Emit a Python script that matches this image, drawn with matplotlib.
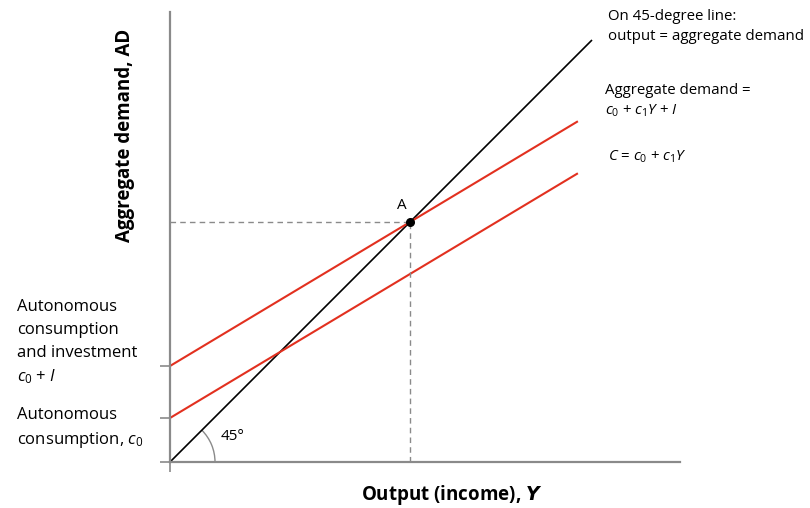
import numpy as np
import matplotlib
matplotlib.use("Agg")
import matplotlib.pyplot as plt
from matplotlib.patches import Arc

plt.rcParams['font.family'] = ['Open Sans', 'DejaVu Sans']
plt.rcParams['mathtext.fontset'] = 'custom'
plt.rcParams['mathtext.rm'] = 'Open Sans'
plt.rcParams['mathtext.it'] = 'Open Sans:italic'
plt.rcParams['mathtext.bf'] = 'Open Sans:bold'

# Model values
c0 = 4.4          # autonomous consumption
inv = 5.2         # investment
c1 = 0.6          # marginal propensity to consume
y_end_45 = 42.2   # extent of 45-degree line
y_end_red = 40.7  # extent of red lines
x_max = 51
y_max = 45

W, H = 810, 508
fig = plt.figure(figsize=(W / 100, H / 100), dpi=100)
ax = fig.add_axes([170 / W, 46 / H, 510 / W, 450 / H])
ax.set_xlim(0, x_max)
ax.set_ylim(0, y_max)

gray = '#8a8a8a'
red = '#e2301f'

for s in ['top', 'right']:
    ax.spines[s].set_visible(False)
for s in ['left', 'bottom']:
    ax.spines[s].set_color(gray)
    ax.spines[s].set_linewidth(1.6)

ax.set_xticks([0])
ax.set_yticks([0, c0, c0 + inv])
ax.set_xticklabels([])
ax.set_yticklabels([])
ax.tick_params(axis='both', direction='out', length=7, width=1.2, color=gray)

# 45-degree line
y45 = np.array([0, y_end_45])
ax.plot(y45, y45, color='black', lw=1.2, solid_capstyle='butt')

# Red lines
yr = np.array([0, y_end_red])
ax.plot(yr, c0 + inv + c1 * yr, color=red, lw=1.5)
ax.plot(yr, c0 + c1 * yr, color=red, lw=1.5)

# Equilibrium A
yA = (c0 + inv) / (1 - c1)
ax.plot([0, yA], [yA, yA], color=gray, lw=1.0, ls=(0, (4, 3)))
ax.plot([yA, yA], [0, yA], color=gray, lw=1.0, ls=(0, (4, 3)))
ax.plot([yA], [yA], 'o', color='black', ms=5.5, zorder=5)
ax.text(yA - 0.35, yA + 0.9, 'A', fontsize=11, ha='right', va='bottom')

# 45 degree arc
arc = Arc((0, 0), 9.0, 9.0, theta1=0, theta2=45, color=gray, lw=1.0)
ax.add_patch(arc)
ax.text(5.1, 2.5, '45°', fontsize=11, ha='left', va='center')

fsr = 10.8
fsl = 12
# Right labels
fig.text(608 / W, 1 - 17 / H, 'On 45-degree line:', fontsize=fsr, ha='left', va='center')
fig.text(608 / W, 1 - 37 / H, 'output = aggregate demand', fontsize=fsr, ha='left', va='center')
fig.text(605 / W, 1 - 90 / H, 'Aggregate demand =', fontsize=fsr, ha='left', va='center')
fig.text(605 / W, 1 - 111 / H, r'$c_0$ + $c_1Y$ + $I$', fontsize=fsr, ha='left', va='center')
fig.text(608 / W, 1 - 157 / H, r'$C$ = $c_0$ + $c_1Y$', fontsize=fsr, ha='left', va='center')

# Left labels
fig.text(17 / W, 1 - 307 / H, 'Autonomous', fontsize=fsl, ha='left', va='center')
fig.text(17 / W, 1 - 330 / H, 'consumption', fontsize=fsl, ha='left', va='center')
fig.text(17 / W, 1 - 353 / H, 'and investment', fontsize=fsl, ha='left', va='center')
fig.text(17 / W, 1 - 377 / H, r'$c_0$ + $I$', fontsize=fsl, ha='left', va='center')
fig.text(17 / W, 1 - 415 / H, 'Autonomous', fontsize=fsl, ha='left', va='center')
fig.text(17 / W, 1 - 440 / H, r'consumption, $c_0$', fontsize=fsl, ha='left', va='center')

# Axis titles
fig.text(125 / W, 1 - 135 / H, r'Aggregate demand, AD', fontsize=13.5, fontweight='bold',
         rotation=90, ha='center', va='center')
fig.text(452 / W, 1 - 495 / H, r'Output (income), $\mathbfit{Y}$', fontsize=13.5,
         fontweight='bold', ha='center', va='center')

fig.savefig('out.png', dpi=100)
